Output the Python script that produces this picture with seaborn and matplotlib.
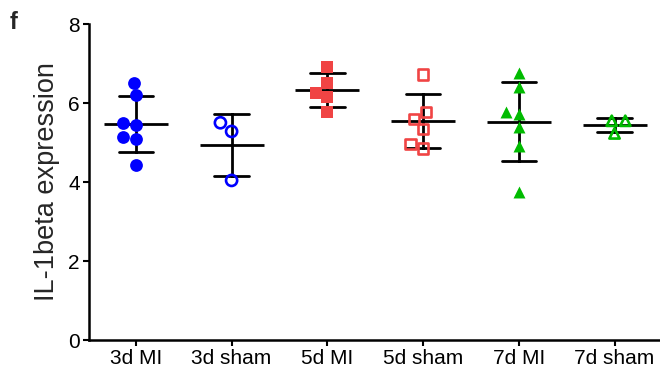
import numpy as np
import pandas as pd
import matplotlib
matplotlib.use("Agg")
import matplotlib.pyplot as plt
import seaborn as sns

categories = ["3d MI", "3d sham", "5d MI", "5d sham", "7d MI", "7d sham"]
v_3d_mi = [6.51, 6.19, 5.50, 5.45, 5.13, 5.08, 4.42]
v_3d_sham = [5.50, 5.28, 4.04]
v_5d_mi = [6.92, 6.51, 6.26, 6.16, 5.78]
v_5d_sham = [6.72, 5.78, 5.60, 5.35, 4.97, 4.85]
v_7d_mi = [6.77, 6.41, 5.76, 5.71, 5.40, 4.92, 3.74]
v_7d_sham = [5.55, 5.55, 5.23]
values = [v_3d_mi, v_3d_sham, v_5d_mi, v_5d_sham, v_7d_mi, v_7d_sham]
colors = ["#0000FF", "#0000FF", "#F04444", "#F04444", "#00BB00", "#00BB00"]
markers = ["o", "o", "s", "s", "^", "^"]
filled = [True, False, True, False, True, False]
y_ticks = [0, 2, 4, 6, 8]
y_label = "IL-1beta expression"
panel_label = "f"

sns.set_style("ticks")
plt.rcParams["font.family"] = ["Liberation Sans", "DejaVu Sans"]

df = pd.DataFrame({
    "group": [c for c, v in zip(categories, values) for _ in v],
    "value": [x for v in values for x in v],
})

fig = plt.figure(figsize=(6.6, 3.78), dpi=100)
ax = fig.add_axes([0.1348, 0.1005, 0.8652, 0.836])

for cat, vals, col, mk, fl in zip(categories, values, colors, markers, filled):
    size = 9.2 if mk == "o" else 8.6
    if fl:
        sns.swarmplot(x=[cat] * len(vals), y=vals, order=categories, color=col,
                      marker=mk, size=size, linewidth=0, ax=ax)
    else:
        sns.swarmplot(x=[cat] * len(vals), y=vals, order=categories, color=col,
                      marker=mk, size=size - 1.2, facecolors="none",
                      edgecolor=col, linewidth=1.9, ax=ax)

sns.pointplot(data=df, x="group", y="value", order=categories, errorbar="sd",
              capsize=0.36, color="black", marker="_", markersize=46,
              markeredgewidth=2.0, linestyle="none",
              err_kws={"linewidth": 2.0}, ax=ax)

ax.set_ylim(0, 8)
ax.set_xlim(-0.49, 5.475)
ax.set_yticks(y_ticks)
ax.set_xlabel("")
ax.set_ylabel(y_label, fontsize=19.5, labelpad=6)
ax.tick_params(axis="both", labelsize=15, direction="out", length=4.5,
               width=1.5, color="black", labelcolor="black", pad=2)
for s in ["left", "bottom"]:
    ax.spines[s].set_linewidth(1.8)
    ax.spines[s].set_color("black")
sns.despine(ax=ax)

fig.text(0.014, 0.94, panel_label, fontsize=17, fontweight="bold", va="center")

fig.savefig("out.png", dpi=100)
